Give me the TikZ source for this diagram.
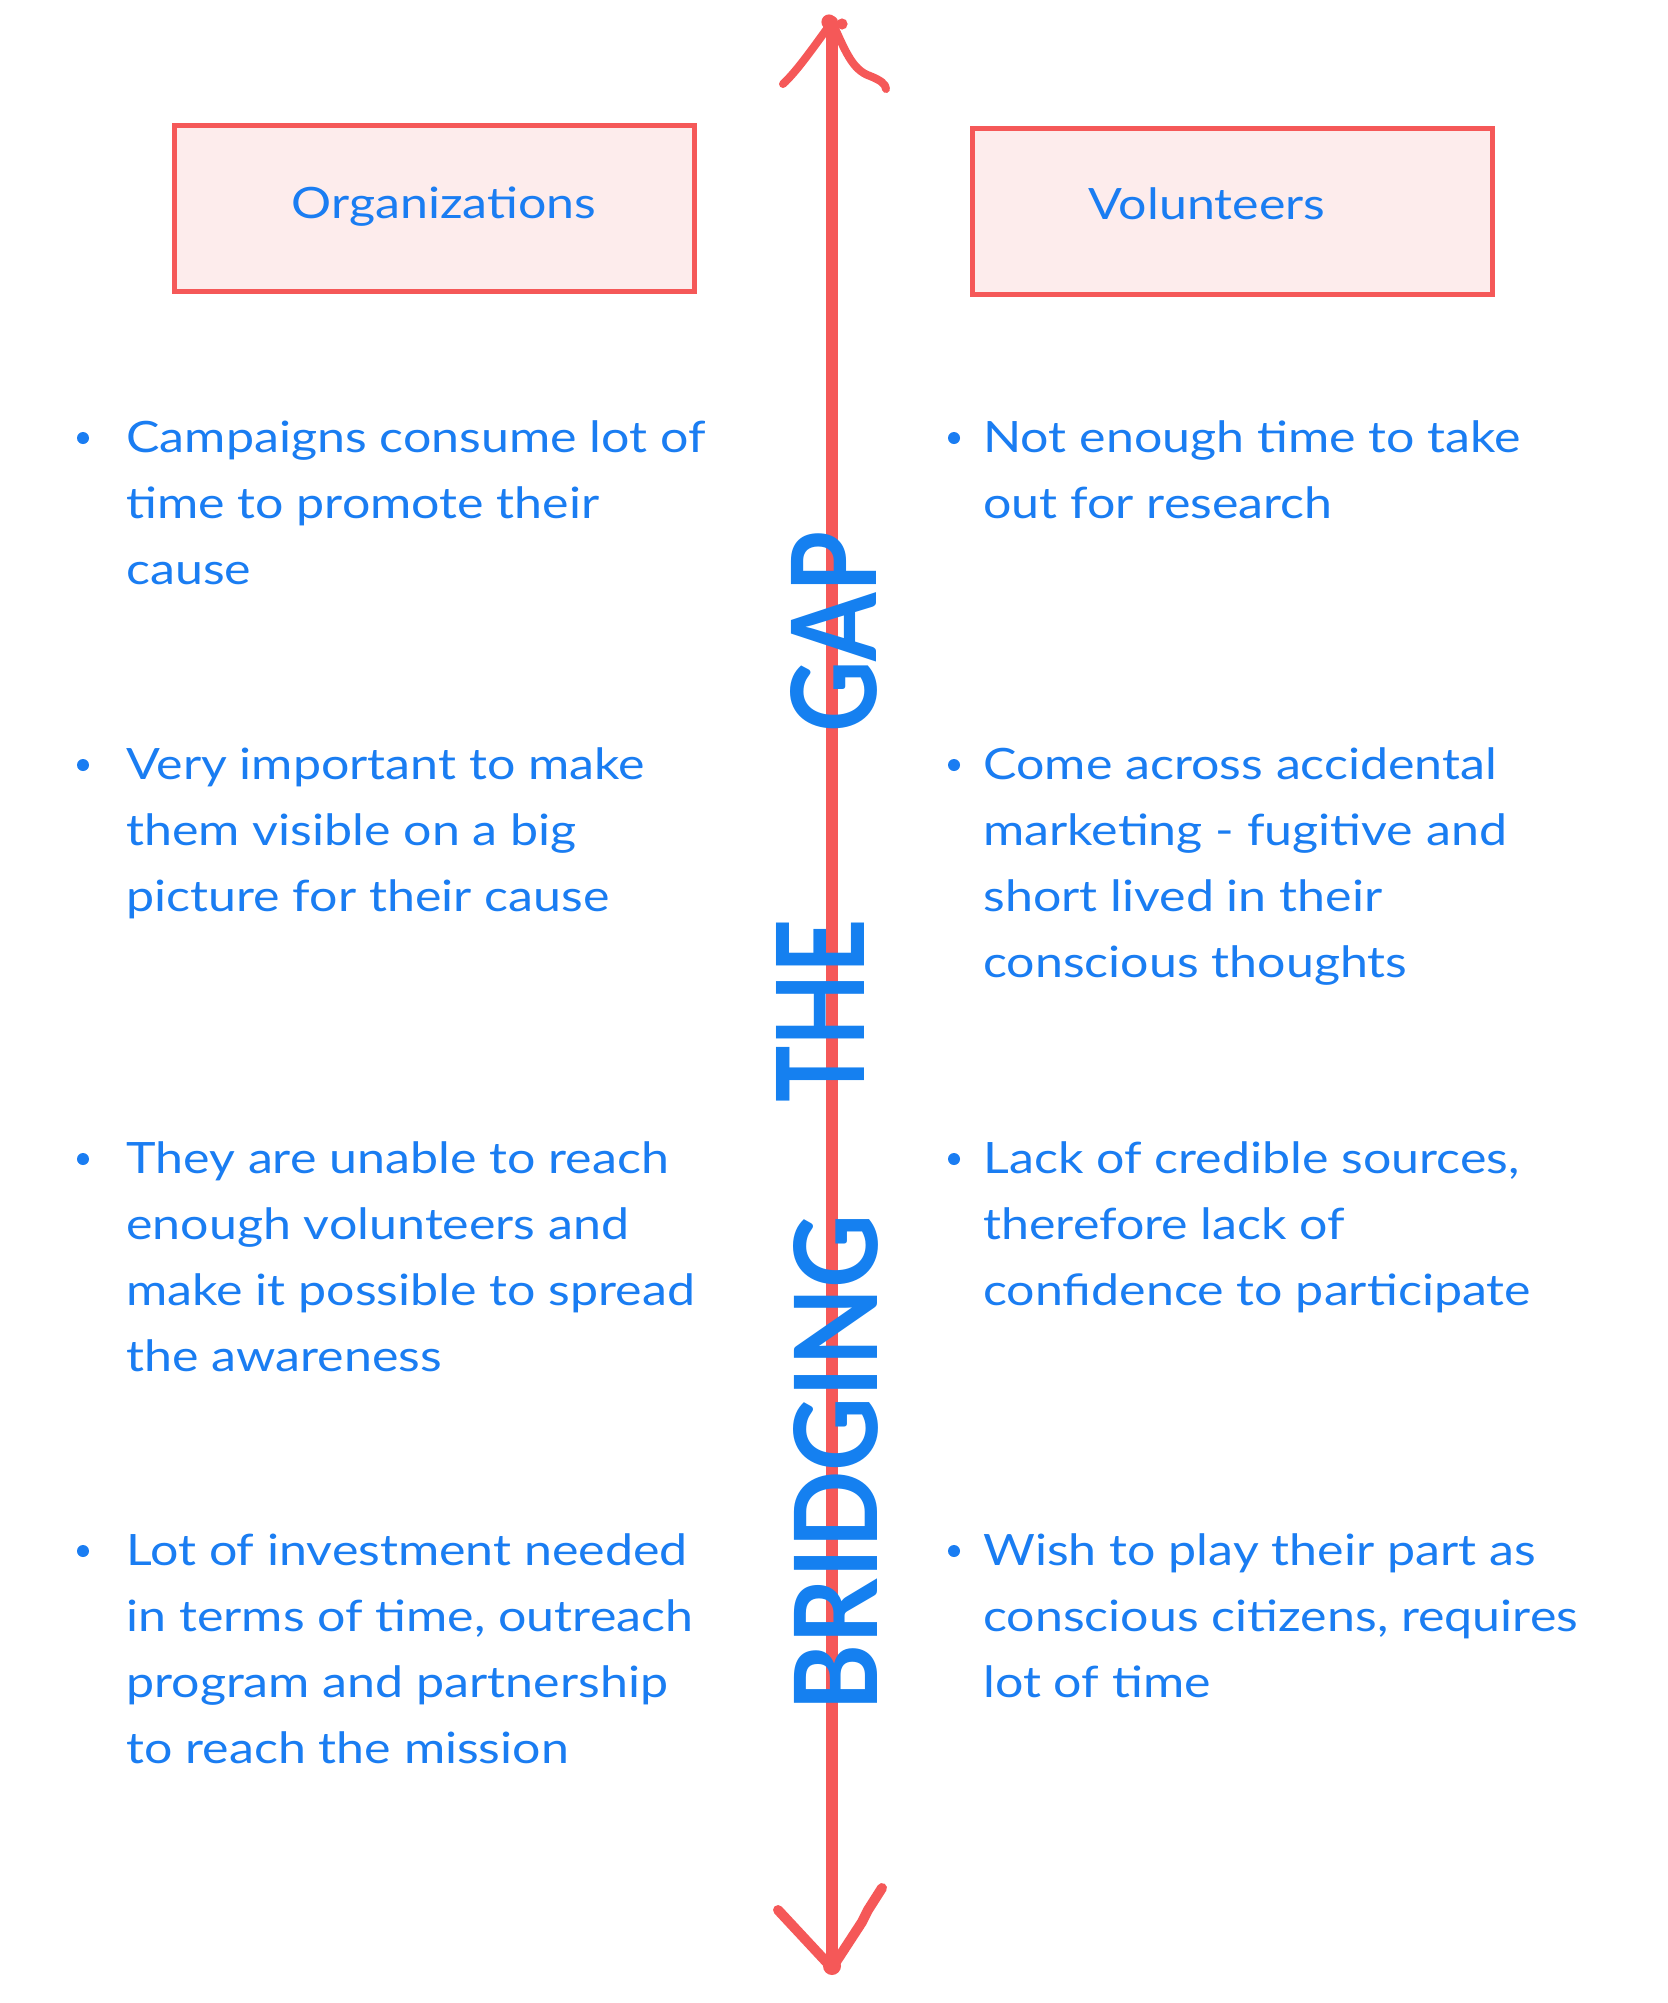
\documentclass[tikz,border=0pt]{standalone}
\usepackage{fontspec}
\usepackage{graphicx}
\setmainfont{Lato}[FakeStretch=1.16]
\newfontfamily\handfont{Lato}[BoldFont=*]
\definecolor{txtblue}{HTML}{1A7DF2}
\definecolor{handblue}{HTML}{1580F0}
\definecolor{linered}{HTML}{F55858}
\definecolor{boxfill}{HTML}{FDECEC}
\begin{document}
\begin{tikzpicture}[x=0.5pt,y=-0.5pt,
  hdrbox/.style={draw=linered, line width=2.5pt, fill=boxfill, inner sep=0,
    minimum width=260pt, minimum height=83pt},
  hdrtxt/.style={anchor=base, inner sep=0, text=txtblue, font=\fontsize{21.6}{28}\selectfont},
  btxt/.style={anchor=base west, inner sep=0, text=txtblue, font=\fontsize{21.6}{33}\selectfont},
  bdot/.style={circle, fill=txtblue, minimum size=6pt, inner sep=0},
  redline/.style={draw=linered, line width=6pt, line cap=round},
  redarm/.style={draw=linered, line width=4pt, line cap=round, line join=round},
  hand/.style={rotate=90, inner sep=0, text=handblue, font=\bfseries}]
\useasboundingbox[fill=white] (0,0) rectangle (1668,2003);

% header boxes
\node[hdrbox] (orgbox) at (434.5,208.5) {};
\node[hdrbox] (volbox) at (1232.5,211) {};
\node[hdrtxt] (orgtxt) at (444,218) {Organizations};
\node[hdrtxt] (voltxt) at (1207,219) {Volunteers};

% central line
\coordinate (top) at (832,22);
\coordinate (bot) at (832,1968);
\draw[redline] (top) -- (bot);
% top arrow head
\coordinate (tl) at (783,84);
\coordinate (tr) at (886,89);
\draw[redarm] (top) .. controls (815,45) and (798,70) .. (tl);
\draw[redarm] (top) .. controls (845,50) and (852,70) .. (870,76) .. controls (880,80) and (886,84) .. (tr);
\fill[linered] (829,22) circle (3.8pt);
\fill[linered] (842,24) circle (2.8pt);
% bottom arrow head
\coordinate (bl) at (778,1910);
\coordinate (br) at (882,1888);
\draw[redarm, line width=5pt] (bot) -- (bl);
\draw[redarm, line width=5pt] (bot) -- (862,1922) -- (868,1910) -- (br);
\fill[linered] (832,1966) circle (4.5pt);

% handwritten title
\node[hand] (gap) at (834,632) {\resizebox{100pt}{43pt}{GAP}};
\node[hand] (the) at (820,1011) {\resizebox{91.5pt}{44pt}{THE}};
\node[hand] (bridging) at (836,1463) {\resizebox{248.5pt}{42pt}{BRIDGING}};

% left column
\node[bdot] (ld1) at (83,438) {};
\node[btxt] (l1) at (126,452) {\begin{tabular}[t]{@{}l@{}}Campaigns consume lot of\\time to promote their\\cause\end{tabular}};
\node[bdot] (ld2) at (83,765) {};
\node[btxt] (l2) at (126,779) {\begin{tabular}[t]{@{}l@{}}Very important to make\\them visible on a big\\picture for their cause\end{tabular}};
\node[bdot] (ld3) at (83,1159) {};
\node[btxt] (l3) at (126,1173) {\begin{tabular}[t]{@{}l@{}}They are unable to reach\\enough volunteers and\\make it possible to spread\\the awareness\end{tabular}};
\node[bdot] (ld4) at (83,1551) {};
\node[btxt] (l4) at (126,1565) {\begin{tabular}[t]{@{}l@{}}Lot of investment needed\\in terms of time, outreach\\program and partnership\\to reach the mission\end{tabular}};

% right column
\node[bdot] (rd1) at (954,438) {};
\node[btxt] (r1) at (983,452) {\begin{tabular}[t]{@{}l@{}}Not enough time to take\\out for research\end{tabular}};
\node[bdot] (rd2) at (954,765) {};
\node[btxt] (r2) at (983,779) {\begin{tabular}[t]{@{}l@{}}Come across accidental\\marketing - fugitive and\\short lived in their\\conscious thoughts\end{tabular}};
\node[bdot] (rd3) at (954,1159) {};
\node[btxt] (r3) at (983,1173) {\begin{tabular}[t]{@{}l@{}}Lack of credible sources,\\therefore lack of\\confidence to participate\end{tabular}};
\node[bdot] (rd4) at (954,1551) {};
\node[btxt] (r4) at (983,1565) {\begin{tabular}[t]{@{}l@{}}Wish to play their part as\\conscious citizens, requires\\lot of time\end{tabular}};
\end{tikzpicture}
\end{document}
